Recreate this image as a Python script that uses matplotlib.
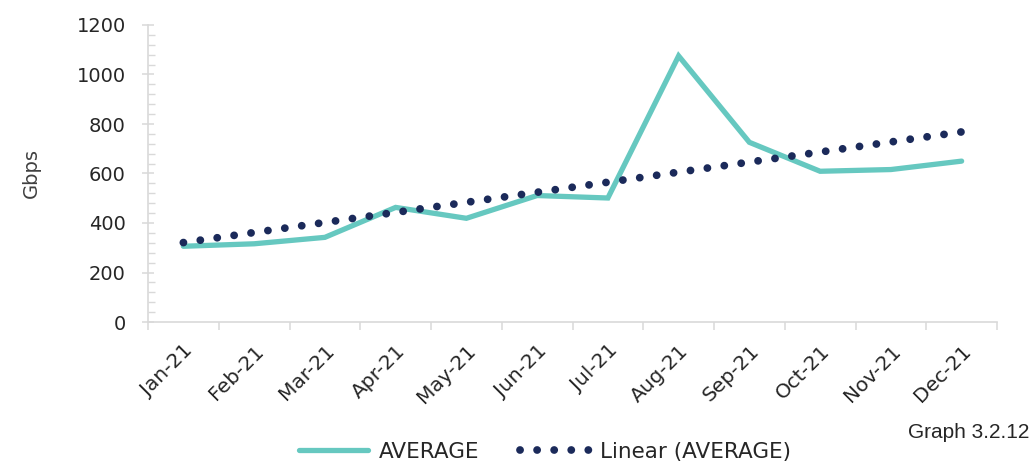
import numpy as np
import matplotlib
matplotlib.use("Agg")
import matplotlib.pyplot as plt
from matplotlib.ticker import MultipleLocator, FixedLocator, NullFormatter

months = ["Jan-21", "Feb-21", "Mar-21", "Apr-21", "May-21", "Jun-21",
          "Jul-21", "Aug-21", "Sep-21", "Oct-21", "Nov-21", "Dec-21"]
average = [306, 316, 342, 463, 419, 511, 501, 1075, 726, 609, 616, 650]

teal = "#66C8C0"
navy = "#1B2A5A"
grid_col = "#D9D9D9"
text_col = "#262626"

plt.rcParams['font.family'] = ['DejaVu Sans']

fig = plt.figure(figsize=(10.32, 4.62), dpi=100)
ax = fig.add_axes([148/1032, 1-322/462, (997-148)/1032, (322-25)/462])

x = np.arange(len(months)) + 0.5
y = np.array(average, dtype=float)
k, b = np.polyfit(np.arange(1, len(y)+1), y, 1)
trend = k*np.arange(1, len(y)+1) + b

ax.plot(x, y, color=teal, lw=3.8, solid_capstyle='round', solid_joinstyle='miter',
        label="AVERAGE", zorder=2)
ax.plot(x, trend, color=navy, lw=5.6, linestyle=(0, (0.01, 2.185)),
        dash_capstyle='round', label="Linear (AVERAGE)", zorder=3)

ax.set_xlim(0, len(months))
ax.set_ylim(0, 1200)

for s in ['top', 'right']:
    ax.spines[s].set_visible(False)
for s in ['left', 'bottom']:
    ax.spines[s].set_color(grid_col)
    ax.spines[s].set_linewidth(1.2)

ax.yaxis.set_major_locator(MultipleLocator(200))
ax.yaxis.set_minor_locator(MultipleLocator(40))
ax.tick_params(axis='y', which='major', direction='inout', length=8, width=1.1,
               color=grid_col, labelsize=14, labelcolor=text_col, pad=12)
ax.tick_params(axis='y', which='minor', direction='in', length=5, width=1.0,
               color=grid_col)

ax.xaxis.set_major_locator(FixedLocator(np.arange(0, len(months)+1)))
ax.xaxis.set_major_formatter(NullFormatter())
ax.xaxis.set_minor_locator(FixedLocator(x))
ax.set_xticklabels(months, minor=True, rotation=45, ha='right',
                   rotation_mode='anchor')
ax.tick_params(axis='x', which='major', direction='out', length=6, width=1.1,
               color=grid_col)
ax.tick_params(axis='x', which='minor', length=0, labelsize=14.5,
               labelcolor=text_col, pad=14)

ax.set_ylabel("Gbps", fontsize=14, color="#404040", labelpad=26)

fig.legend(loc='center', bbox_to_anchor=(545/1032, 1-452/462), ncol=2,
           frameon=False, fontsize=15.5, handlelength=3.2, columnspacing=1.9,
           handletextpad=0.5, labelcolor=text_col)

fig.text(1029/1032, 1-433/462, "Graph 3.2.12", ha='right', va='center',
         fontsize=15, color=text_col, family=['Liberation Sans', 'DejaVu Sans'])

fig.savefig("out.png", dpi=100)
